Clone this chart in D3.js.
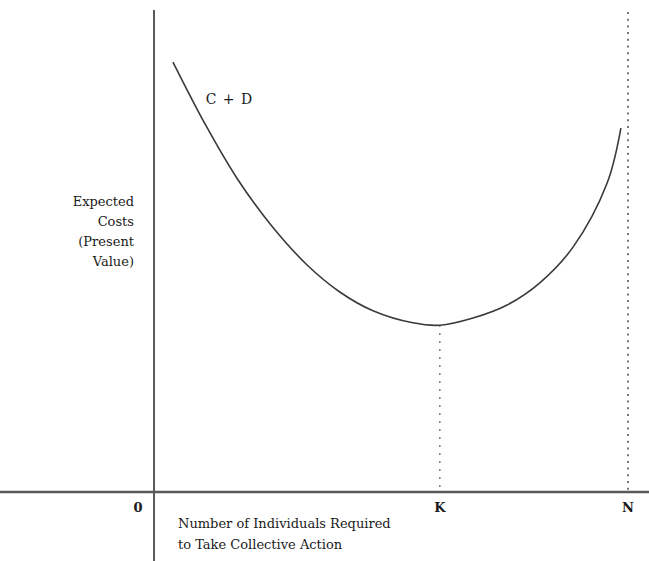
<!DOCTYPE html>
<html lang="en">

<head>
	<meta charset="UTF-8">
	<title>Expected costs</title>

	<style>
		body {
			margin: 0;
			background: #fff;
		}

		text {
			font-family: "DejaVu Serif", "Liberation Serif", serif;
			fill: #1a1a1a;
		}
	</style>

	<script src="https://cdn.jsdelivr.net/npm/d3@7"></script>

</head>

<body>

	<script type="text/javascript">
		let width = 649;
		let height = 561;

		// curve C + D (x: 0..N = 100, y: cost units)
		const curveX = [4.0, 10.8, 17.5, 24.5, 32.3, 39.2, 46.2, 54.6, 60.3, 67.3, 74.5, 81.4, 88.4, 95.6, 98.5];
		const curveY = [89.2, 76.3, 65.1, 55.6, 47.1, 41.5, 37.6, 35.1, 34.6, 36.1, 38.8, 43.4, 50.8, 64.1, 75.5];

		const tickNames = ["0", "K", "N"];
		const tickValues = [0, 60.3, 100];

		const yTitle = ["Expected", "Costs", "(Present", "Value)"];
		const xTitle = ["Number of Individuals Required", "to Take Collective Action"];
		const curveName = "C + D";

		const data = curveX.map((x, i) => ({ x: x, y: curveY[i] }));

		const svg = d3.select("body").append("svg")
			.attr("width", width)
			.attr("height", height);

		const x = d3.scaleLinear().domain([0, 100]).range([154, 628]);
		const y = d3.scaleLinear().domain([0, 100]).range([492, 10]);

		const minPoint = data[curveX.indexOf(tickValues[1])];

		// dotted guides at K and N
		svg.append("line")
			.attr("x1", x(tickValues[1])).attr("x2", x(tickValues[1]))
			.attr("y1", y(minPoint.y)).attr("y2", y(0))
			.style("stroke", "#555")
			.style("stroke-width", 1.5)
			.style("stroke-dasharray", "1.5,6.5");

		svg.append("line")
			.attr("x1", x(tickValues[2])).attr("x2", x(tickValues[2]))
			.attr("y1", y(100) + 2).attr("y2", y(0))
			.style("stroke", "#777")
			.style("stroke-width", 2)
			.style("stroke-dasharray", "2,4.7");

		// axes
		svg.append("line")
			.attr("x1", x(0)).attr("x2", x(0))
			.attr("y1", y(100)).attr("y2", height)
			.style("stroke", "#5a5a5a")
			.style("stroke-width", 2);

		svg.append("line")
			.attr("x1", 0).attr("x2", width)
			.attr("y1", y(0)).attr("y2", y(0))
			.style("stroke", "#5a5a5a")
			.style("stroke-width", 2.5);

		// the curve
		const line = d3.line()
			.x(d => x(d.x))
			.y(d => y(d.y))
			.curve(d3.curveCatmullRom.alpha(0.5));

		svg.append("path")
			.datum(data)
			.attr("d", line)
			.style("fill", "none")
			.style("stroke", "#3a3a3a")
			.style("stroke-width", 1.6);

		svg.append("text")
			.attr("x", x(10.9))
			.attr("y", y(80.5))
			.style("font-size", "14px")
			.style("letter-spacing", "1px")
			.text(curveName);

		// tick labels
		svg.selectAll(".tick")
			.data(tickNames)
			.join("text")
			.attr("class", "tick")
			.attr("x", (d, i) => i === 0 ? x(tickValues[i]) - 16 : x(tickValues[i]))
			.attr("y", 512)
			.attr("text-anchor", "middle")
			.style("font-size", "13px")
			.style("font-weight", "bold")
			.text(d => d);

		// axis titles
		svg.selectAll(".ytitle")
			.data(yTitle)
			.join("text")
			.attr("class", "ytitle")
			.attr("x", 134)
			.attr("y", (d, i) => 206 + i * 20)
			.attr("text-anchor", "end")
			.style("font-size", "13px")
			.text(d => d);

		svg.selectAll(".xtitle")
			.data(xTitle)
			.join("text")
			.attr("class", "xtitle")
			.attr("x", 178)
			.attr("y", (d, i) => 528 + i * 21)
			.style("font-size", "13px")
			.text(d => d);
	</script>

</body>

</html>
